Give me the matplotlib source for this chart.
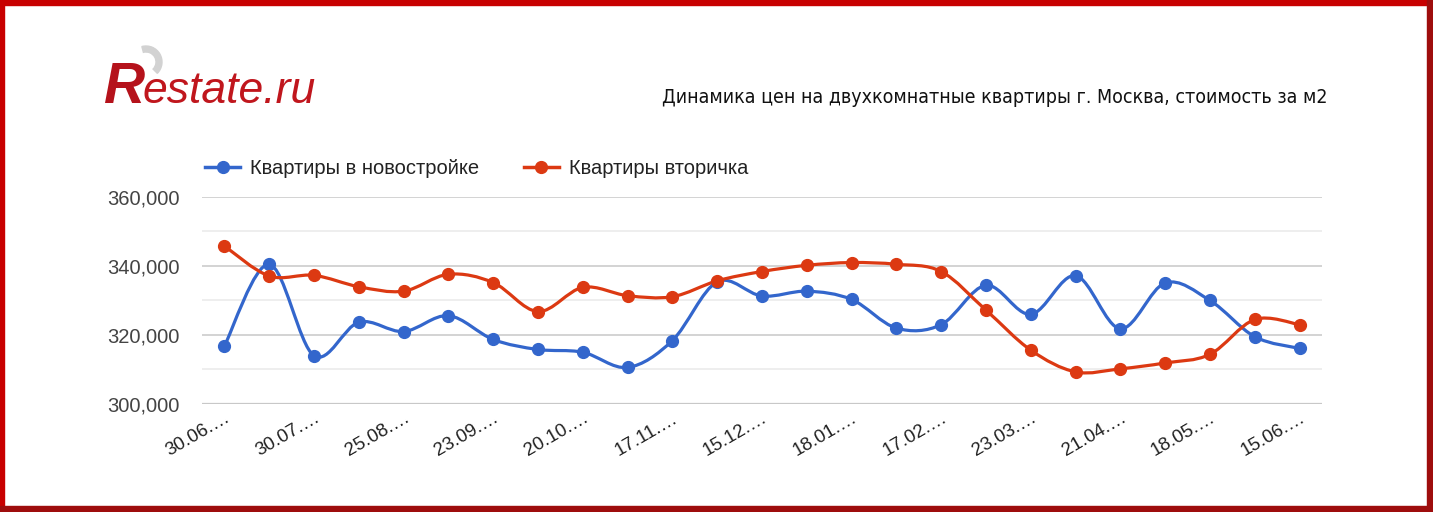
"""
Restate.ru: price dynamics for two-room flats in Moscow (price per m2).
"""
import matplotlib
matplotlib.use("Agg")
import matplotlib.pyplot as plt
import numpy as np
from matplotlib.lines import Line2D
from matplotlib.patches import PathPatch, Rectangle, Wedge
from matplotlib.path import Path
from matplotlib.ticker import FuncFormatter, MultipleLocator

plt.rcParams["font.family"] = ["Liberation Sans", "DejaVu Sans"]

# --- data -----------------------------------------------------------------
tick_labels = ["30.06.…", "30.07.…", "25.08.…", "23.09.…", "20.10.…", "17.11.…",
               "15.12.…", "18.01.…", "17.02.…", "23.03.…", "21.04.…", "18.05.…",
               "15.06.…"]
new_flats = [316.8, 340.5, 314.0, 323.7, 321.0, 325.6, 318.7, 315.8, 315.0, 310.6,
             318.4, 335.4, 331.3, 332.7, 330.3, 322.0, 323.0, 334.4, 326.0, 337.2,
             321.8, 335.1, 330.0, 319.5, 316.1]
resale_flats = [345.8, 337.1, 337.3, 334.0, 332.7, 337.6, 335.2, 326.8, 333.8, 331.4,
                331.1, 335.7, 338.4, 340.2, 341.0, 340.5, 338.4, 327.2, 315.6, 309.3,
                310.2, 311.9, 314.4, 324.5, 323.0]
series_names = ["Квартиры в новостройке", "Квартиры вторичка"]
title = "Динамика цен на двухкомнатные квартиры г. Москва, стоимость за м2"

BLUE = "#3366cc"
RED = "#dc3912"


def smooth_path(xs, ys):
    """Catmull-Rom curve through the points, as cubic Bezier segments."""
    pts = np.column_stack([xs, ys]).astype(float)
    ext = np.vstack([pts[0], pts, pts[-1]])
    verts = [pts[0]]
    codes = [Path.MOVETO]
    for i in range(len(pts) - 1):
        p0, p1, p2, p3 = ext[i], ext[i + 1], ext[i + 2], ext[i + 3]
        verts += [p1 + (p2 - p0) / 6, p2 - (p3 - p1) / 6, p2]
        codes += [Path.CURVE4] * 3
    return Path(verts, codes)


fig = plt.figure(figsize=(14.33, 5.12), dpi=100)
W, H = 1433, 512

ax = fig.add_axes([202 / W, 1 - 404 / H, 1120 / W, 207 / H])
x = np.arange(len(new_flats))

for vals, color in [(new_flats, BLUE), (resale_flats, RED)]:
    y = np.array(vals) * 1000
    ax.add_patch(PathPatch(smooth_path(x, y), facecolor="none", edgecolor=color,
                           lw=2.3, capstyle="round", joinstyle="round", zorder=3))
    ax.plot(x, y, "o", color=color, ms=8.5, zorder=4)

ax.set_xlim(-0.5, len(x) - 0.5)
ax.set_ylim(300000, 360000)
ax.yaxis.set_major_locator(MultipleLocator(20000))
ax.yaxis.set_minor_locator(MultipleLocator(10000))
ax.yaxis.set_major_formatter(FuncFormatter(lambda v, _: f"{v:,.0f}"))
ax.grid(axis="y", which="major", color="#cccccc", lw=1.2)
ax.grid(axis="y", which="minor", color="#ebebeb", lw=1.2)
ax.set_axisbelow(True)
for s in ax.spines.values():
    s.set_visible(False)
ax.axhline(300000, color="#c8c8c8", lw=1.6, zorder=1)

ax.set_xticks(x[::2])
ax.set_xticklabels(tick_labels, rotation=30, ha="right", rotation_mode="anchor",
                   fontsize=13.5, color="#222222")
ax.tick_params(axis="both", which="both", length=0)
ax.tick_params(axis="x", pad=4)
ax.tick_params(axis="y", pad=16, labelsize=14.5, labelcolor="#444444")

# legend
handles = [Line2D([], [], color=c, lw=2.5, marker="o", ms=8.5) for c in (BLUE, RED)]
fig.legend(handles, series_names, loc="center left", ncol=2, frameon=False,
           bbox_to_anchor=(205 / W, 1 - 169 / H), fontsize=14.5, handlelength=1.75,
           handletextpad=0.5, columnspacing=2.2, borderpad=0, borderaxespad=0,
           labelcolor="#222222")

# title
fig.text(1328 / W, 1 - 103 / H, title, ha="right", va="baseline", fontsize=14,
         color="#111111", family=["Liberation Sans Narrow", "DejaVu Sans"],
         fontstretch="condensed")

# logo: gray arc, big R, "estate.ru"
fig.add_artist(Wedge((146, H - 62), 16, -45, 105, width=6, color="#d2d2d2",
                     transform=None, zorder=1))
fig.text(104 / W, 1 - 103 / H, "R", fontsize=41, fontstyle="italic",
         fontweight="bold", color="#b5121b", va="baseline", zorder=2)
fig.text(143 / W, 1 - 103 / H, "estate.ru", fontsize=32, fontstyle="italic",
         color="#c0161d", va="baseline", zorder=2)

# frame
fig.add_artist(Rectangle((0, 1 - 5 / H), 1, 5 / H, color="#c80000",
                         transform=fig.transFigure))
fig.add_artist(Rectangle((0, 0), 4 / W, 1, color="#c80000",
                         transform=fig.transFigure))
fig.add_artist(Rectangle((1 - 6 / W, 0), 6 / W, 1, color="#9e0d0d",
                         transform=fig.transFigure))
fig.add_artist(Rectangle((0, 0), 1, 6 / H, color="#9e0d0d",
                         transform=fig.transFigure))

fig.savefig("out.png", dpi=100)
